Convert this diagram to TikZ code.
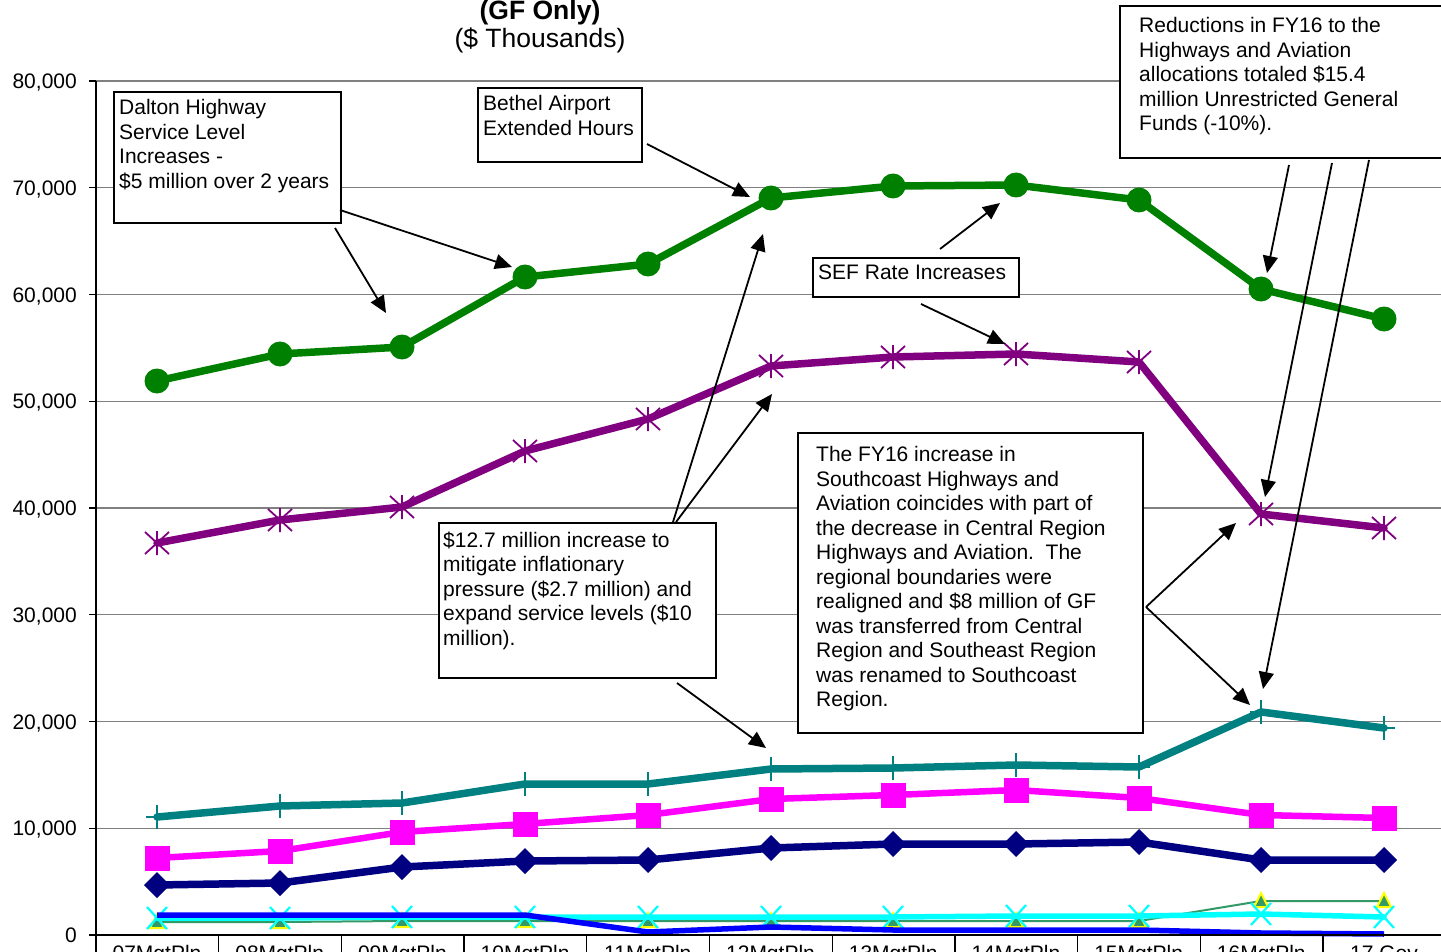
\documentclass[tikz,border=0pt]{standalone}
\usepackage{fontspec}
\setmainfont{Liberation Sans}
\usetikzlibrary{arrows.meta}
\definecolor{cgreen}{HTML}{008000}
\definecolor{cpurple}{HTML}{800080}
\definecolor{cteal}{HTML}{008080}
\definecolor{cmag}{HTML}{FF00FF}
\definecolor{cnavy}{HTML}{000080}
\definecolor{cblue}{HTML}{0000FF}
\definecolor{ccyan}{HTML}{00FFFF}
\definecolor{csea}{HTML}{339966}
\definecolor{cyel}{HTML}{FFFF00}
\definecolor{cgrid}{HTML}{808080}
\tikzset{
  lbl/.style={font=\fontsize{21}{24.5}\selectfont, inner sep=0pt},
  txt/.style={font=\fontsize{21}{24.5}\selectfont, inner sep=0pt, align=left, anchor=north west},
  annbox/.style={draw=black, line width=1.6pt, fill=white, inner sep=0pt, anchor=north west},
  gridl/.style={draw=cgrid, line width=1.3pt},
  arr/.style={draw=black, line width=1.8pt, -{Triangle[length=17pt,width=15pt]}},
  ser/.style={line width=7.5pt, line join=round, line cap=round},
}
\begin{document}
\begin{tikzpicture}[x=1pt,y=-1pt]
\useasboundingbox (0,0) rectangle (1441,952);
\clip (0,0) rectangle (1441,952);
\fill[white] (0,0) rectangle (1441,952);

% titles
\node[anchor=base, inner sep=0pt, font=\fontsize{26.5}{30}\selectfont\bfseries] (t1) at (540,20) {(GF Only)};
\node[anchor=base, inner sep=0pt, font=\fontsize{26.5}{30}\selectfont] (t2) at (540,48) {(\$ Thousands)};

% gridlines and y labels
\foreach \v/\y in {0/935,10/828.25,20/721.5,30/614.75,40/508,50/401.25,60/294.5,70/187.75,80/81}{
  \ifnum\v>0 \draw[gridl] (96,\y) -- (1441,\y); \fi
  \draw[black, line width=1.3pt] (89,\y) -- (96,\y);
}
\node[lbl, anchor=base east] (y0) at (77,942.5) {0};
\node[lbl, anchor=base east] (y1) at (77,835.75) {10,000};
\node[lbl, anchor=base east] (y2) at (77,729) {20,000};
\node[lbl, anchor=base east] (y3) at (77,622.25) {30,000};
\node[lbl, anchor=base east] (y4) at (77,515.5) {40,000};
\node[lbl, anchor=base east] (y5) at (77,408.75) {50,000};
\node[lbl, anchor=base east] (y6) at (77,302) {60,000};
\node[lbl, anchor=base east] (y7) at (77,195.25) {70,000};
\node[lbl, anchor=base east] (y8) at (77,88.5) {80,000};

% x ticks and labels
\foreach \k in {0,...,11}{ \draw[black, line width=1.3pt] ({96+122.7*\k},935) -- ({96+122.7*\k},952); }
\foreach \k/\t in {0/07MgtPln,1/08MgtPln,2/09MgtPln,3/10MgtPln,4/11MgtPln,5/12MgtPln,6/13MgtPln,7/14MgtPln,8/15MgtPln,9/16MgtPln,10/17 Gov}{
  \node[lbl, anchor=base] (x\k) at ({157+122.7*\k},960) {\t};
}

% series: navy diamonds
\draw[ser, cnavy] plot coordinates {(157,885)(280,883)(402,867)(525,861)(648,860)(771,848)(893,844)(1016,844)(1139,842)(1261,860)(1384,860)};
\foreach \x/\y in {157/885,280/883,402/867,525/861,648/860,771/848,893/844,1016/844,1139/842,1261/860,1384/860}
  \fill[cnavy] (\x-13,\y) -- (\x,\y-13) -- (\x+13,\y) -- (\x,\y+13) -- cycle;

% magenta squares
\draw[ser, cmag, line width=6.5pt] plot coordinates {(157,858)(280,851)(402,832)(525,824)(648,815)(771,799)(893,795)(1016,790)(1139,798)(1261,815)(1384,818)};
\foreach \x/\y in {157/858,280/851,402/832,525/824,648/815,771/799,893/795,1016/790,1139/798,1261/815,1384/818}
  \fill[cmag] (\x-12.5,\y-12.5) rectangle (\x+12.5,\y+12.5);

% teal plus
\draw[ser, cteal] plot coordinates {(157,817)(280,806)(402,803)(525,784)(648,784)(771,769)(893,768)(1016,765)(1139,767)(1261,712)(1384,728)};
\foreach \x/\y in {157/817,280/806,402/803,525/784,648/784,771/769,893/768,1016/765,1139/767,1261/712,1384/728}
  \draw[cteal, line width=1.8pt] (\x,\y-12) -- (\x,\y+12) (\x-11,\y) -- (\x+11,\y);

% sea green triangles
\draw[csea, line width=2pt] plot coordinates {(157,922)(280,922)(402,921)(525,921)(648,921)(771,921)(893,921)(1016,921)(1139,921)(1261,901)(1384,901)};
\foreach \x/\y in {157/922,280/922,402/921,525/921,648/921,771/921,893/921,1016/921,1139/921,1261/901,1384/901}
  \filldraw[fill=csea, draw=cyel, line width=2pt] (\x,\y-8) -- (\x+7,\y+6) -- (\x-7,\y+6) -- cycle;

% cyan x
\draw[ser, ccyan, line width=5.5pt] plot coordinates {(157,918)(280,918)(402,917)(525,917)(648,917)(771,917)(893,917)(1016,916)(1139,916)(1261,914)(1384,917)};
\foreach \x/\y in {157/918,280/918,402/917,525/917,648/917,771/917,893/917,1016/916,1139/916,1261/914,1384/917}
  \draw[ccyan, line width=2.2pt] (\x-10,\y-11) -- (\x+10,\y+11) (\x-10,\y+11) -- (\x+10,\y-11);

% blue
\draw[ser, cblue, line width=5.5pt, line cap=butt] plot coordinates {(157,915)(280,915)(402,915)(525,915)(648,932)(771,927)(893,930)(1016,930)(1139,930)(1261,933)(1384,934)};

% purple asterisks
\draw[ser, cpurple] plot coordinates {(157,543)(280,520)(402,507)(525,451)(648,419)(771,366)(893,357)(1016,354)(1139,362)(1261,514)(1384,528)};
\foreach \x/\y in {157/543,280/520,402/507,525/451,648/419,771/366,893/357,1016/354,1139/362,1261/514,1384/528}
  \draw[cpurple, line width=1.8pt] (\x,\y-12) -- (\x,\y+12) (\x-12,\y-11) -- (\x+12,\y+11) (\x-12,\y+11) -- (\x+12,\y-11);

% green circles
\draw[ser, cgreen] plot coordinates {(157,381)(280,354)(402,347)(525,277)(648,264)(771,198)(893,186)(1016,185)(1139,200)(1261,289)(1384,319)};
\foreach \x/\y in {157/381,280/354,402/347,525/277,648/264,771/198,893/186,1016/185,1139/200,1261/289,1384/319}
  \fill[cgreen] (\x,\y) circle (12.5);

% axes
\draw[black, line width=1.6pt] (96,81) -- (96,935) -- (1441,935);

% annotation boxes
\node[annbox, minimum width=227pt, minimum height=131pt] (dalton) at (113,91) {};
\node[txt] (daltonT) at (119,99.5) {Dalton Highway\\Service Level\\Increases -\\\$5 million over 2 years};

\node[annbox, minimum width=164pt, minimum height=74pt] (bethel) at (477,87) {};
\node[txt] (bethelT) at (483,95.5) {Bethel Airport\\Extended Hours};

\node[annbox, minimum width=206pt, minimum height=39pt] (sef) at (812,257) {};
\node[txt] (sefT) at (818,264.5) {SEF Rate Increases};

\node[annbox, minimum width=277pt, minimum height=155pt] (infl) at (438,522) {};
\node[txt] (inflT) at (443,531.5) {\$12.7 million increase to\\mitigate inflationary\\pressure (\$2.7 million) and\\expand service levels (\$10\\million).};

\node[annbox, minimum width=345pt, minimum height=300pt] (fy16) at (797,432) {};
\node[txt] (fy16T) at (816,446.5) {The FY16 increase in\\Southcoast Highways and\\Aviation coincides with part of\\the decrease in Central Region\\Highways and Aviation.\ \ The\\regional boundaries were\\realigned and \$8 million of GF\\was transferred from Central\\Region and Southeast Region\\was renamed to Southcoast\\Region.};

\node[annbox, minimum width=340pt, minimum height=152pt] (red) at (1119,5) {};
\node[txt] (redT) at (1139,17.5) {Reductions in FY16 to the\\Highways and Aviation\\allocations totaled \$15.4\\million Unrestricted General\\Funds (-10\%).};

% arrow coordinates
\coordinate (d1s) at (340,210); \coordinate (d1e) at (512,267);
\coordinate (d2s) at (335,228); \coordinate (d2e) at (386,313);
\coordinate (b1s) at (647,144); \coordinate (b1e) at (750,197);
\coordinate (i1s) at (673,522); \coordinate (i1e) at (763,234);
\coordinate (i2s) at (676,522); \coordinate (i2e) at (772,394);
\coordinate (i3s) at (677,683); \coordinate (i3e) at (766,748);
\coordinate (s1s) at (940,249); \coordinate (s1e) at (1000,203);
\coordinate (s2s) at (921,304); \coordinate (s2e) at (1005,344);
\coordinate (f1s) at (1146,607); \coordinate (f1e) at (1236,523);
\coordinate (f2e) at (1250,705);
\coordinate (r1s) at (1289,165); \coordinate (r1e) at (1267,273);
\coordinate (r2s) at (1332,163); \coordinate (r2e) at (1265,497);
\coordinate (r3s) at (1369,160); \coordinate (r3e) at (1263,689);

\draw[arr] (d1s) -- (d1e);
\draw[arr] (d2s) -- (d2e);
\draw[arr] (b1s) -- (b1e);
\draw[arr] (i1s) -- (i1e);
\draw[arr] (i2s) -- (i2e);
\draw[arr] (i3s) -- (i3e);
\draw[arr] (s1s) -- (s1e);
\draw[arr] (s2s) -- (s2e);
\draw[arr] (f1s) -- (f1e);
\draw[arr] (f1s) -- (f2e);
\draw[arr] (r1s) -- (r1e);
\draw[arr] (r2s) -- (r2e);
\draw[arr] (r3s) -- (r3e);
\end{tikzpicture}
\end{document}
